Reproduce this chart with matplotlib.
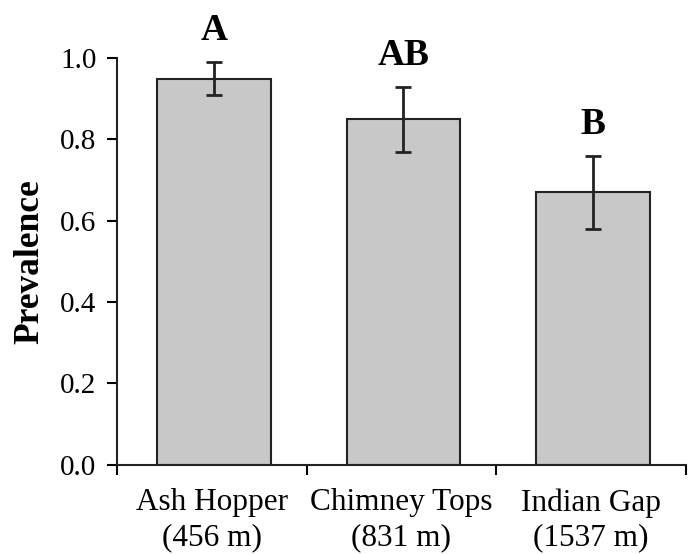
import numpy as np
import matplotlib
matplotlib.use("Agg")
import matplotlib.pyplot as plt

sites = ["Ash Hopper\n(456 m)", "Chimney Tops\n(831 m)", "Indian Gap\n(1537 m)"]
prevalence = [0.95, 0.85, 0.67]
err_low = [0.04, 0.08, 0.09]
err_high = [0.04, 0.08, 0.09]
groups = ["A", "AB", "B"]

plt.rcParams['font.family'] = ['Liberation Serif', 'DejaVu Serif']

fig = plt.figure(figsize=(6.94, 5.54), dpi=100)
ax = fig.add_axes([0.169, 0.161, 0.819, 0.734])

x = np.arange(len(sites))
ax.bar(x + 0.01, prevalence, width=0.6, color="#c8c8c8", edgecolor="#222222", linewidth=1.5)
ax.errorbar(x + 0.01, prevalence, yerr=[err_low, err_high], fmt="none", ecolor="#222222",
            elinewidth=2, capsize=6, capthick=2)

# significance letters above the error bars
for i in range(len(sites)):
    ax.annotate(groups[i], (x[i] + 0.01, prevalence[i] + err_high[i]), xytext=(0, 10),
                textcoords="offset points", ha="center", va="bottom",
                fontsize=27, fontweight="bold")

ax.set_xlim(-0.5, 2.5)
ax.set_ylim(0, 1.0)
ax.set_yticks(np.arange(0, 1.01, 0.2))
ax.set_yticklabels(["%.1f" % v for v in np.arange(0, 1.01, 0.2)])
ax.set_xticks(x)
ax.set_xticklabels(sites, linespacing=1.25)
ax.set_xticks([-0.5, 0.5, 1.5, 2.5], minor=True)
ax.tick_params(axis="x", which="major", length=0, labelsize=22.5, pad=17)
ax.tick_params(axis="x", which="minor", length=7, width=1.5, direction="out")
ax.tick_params(axis="y", length=7, width=1.5, direction="out", labelsize=21, pad=8)

ax.set_ylabel("Prevalence", fontsize=25.5, fontweight="bold", labelpad=10)

for s in ["top", "right"]:
    ax.spines[s].set_visible(False)
for s in ["left", "bottom"]:
    ax.spines[s].set_linewidth(1.5)
    ax.spines[s].set_color("#222222")

fig.savefig("out.png", dpi=100)
